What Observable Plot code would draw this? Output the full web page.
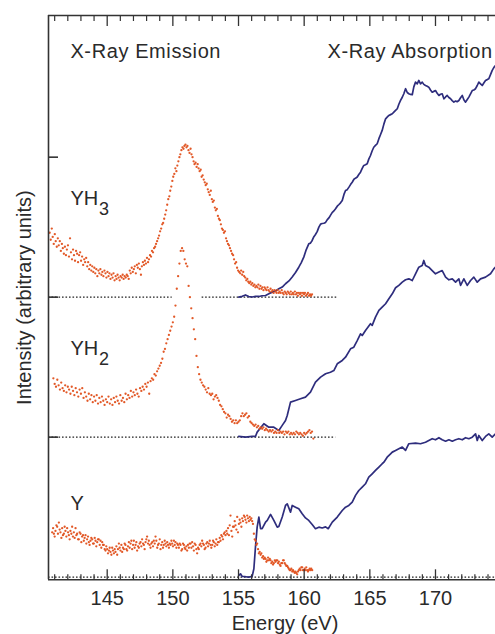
<!DOCTYPE html>
<html><head><meta charset="utf-8">
<script src="https://cdn.jsdelivr.net/npm/d3@7"></script>
<script src="https://cdn.jsdelivr.net/npm/@observablehq/plot@0.6"></script>
<style>
html,body{margin:0;padding:0;background:#fff;}
#chart svg{display:block;}
</style></head><body><div id="chart"></div>
<script>
// ---- data: energy (eV), intensity above each spectrum's own baseline (arb. units) ----
const yh3Emission = [[140.62,0.46],[140.70,0.41],[140.78,0.49],[140.85,0.43],[140.93,0.38],[141.01,0.45],[141.08,0.40],[141.16,0.36],[141.24,0.42],[141.31,0.37],[141.39,0.40],[141.47,0.33],[141.55,0.38],[141.62,0.35],[141.70,0.31],[141.78,0.36],[141.86,0.30],[141.93,0.34],[142.01,0.37],[142.09,0.29],[142.17,0.42],[142.24,0.32],[142.32,0.27],[142.40,0.34],[142.47,0.30],[142.55,0.26],[142.63,0.33],[142.71,0.31],[142.78,0.25],[142.86,0.30],[142.94,0.32],[143.01,0.26],[143.09,0.29],[143.17,0.23],[143.25,0.27],[143.32,0.25],[143.40,0.28],[143.48,0.22],[143.55,0.25],[143.63,0.20],[143.71,0.23],[143.79,0.19],[143.86,0.22],[143.94,0.18],[144.02,0.21],[144.09,0.17],[144.17,0.20],[144.25,0.15],[144.33,0.19],[144.40,0.17],[144.48,0.20],[144.56,0.16],[144.63,0.18],[144.71,0.15],[144.79,0.19],[144.87,0.17],[144.94,0.14],[145.02,0.18],[145.10,0.15],[145.17,0.17],[145.25,0.13],[145.33,0.16],[145.41,0.14],[145.48,0.17],[145.56,0.12],[145.64,0.15],[145.71,0.13],[145.79,0.16],[145.87,0.14],[145.95,0.12],[146.02,0.15],[146.10,0.14],[146.18,0.16],[146.25,0.13],[146.33,0.15],[146.41,0.14],[146.49,0.16],[146.56,0.15],[146.64,0.13],[146.72,0.19],[146.79,0.17],[146.87,0.21],[146.95,0.18],[147.03,0.20],[147.10,0.22],[147.18,0.17],[147.26,0.23],[147.33,0.21],[147.41,0.24],[147.49,0.20],[147.57,0.16],[147.64,0.22],[147.72,0.25],[147.80,0.23],[147.87,0.26],[147.95,0.24],[148.03,0.28],[148.11,0.25],[148.18,0.27],[148.26,0.30],[148.34,0.29],[148.41,0.33],[148.49,0.32],[148.57,0.35],[148.65,0.36],[148.72,0.38],[148.80,0.40],[148.88,0.42],[148.95,0.44],[149.03,0.47],[149.11,0.49],[149.19,0.52],[149.26,0.53],[149.34,0.56],[149.42,0.59],[149.49,0.62],[149.57,0.66],[149.65,0.70],[149.73,0.72],[149.80,0.76],[149.88,0.79],[149.96,0.83],[150.03,0.86],[150.11,0.88],[150.19,0.92],[150.27,0.90],[150.34,0.94],[150.42,0.97],[150.50,1.00],[150.57,1.02],[150.65,1.05],[150.73,1.07],[150.81,1.06],[150.88,1.08],[150.96,1.09],[151.04,1.07],[151.11,1.08],[151.19,1.05],[151.27,1.03],[151.35,1.06],[151.42,1.02],[151.50,1.00],[151.58,0.97],[151.65,0.95],[151.73,0.96],[151.81,0.93],[151.89,0.95],[151.96,0.92],[152.04,0.90],[152.12,0.91],[152.19,0.86],[152.27,0.87],[152.35,0.84],[152.43,0.82],[152.50,0.80],[152.58,0.81],[152.66,0.77],[152.73,0.75],[152.81,0.73],[152.89,0.76],[152.97,0.70],[153.04,0.68],[153.12,0.69],[153.20,0.64],[153.27,0.62],[153.35,0.63],[153.43,0.58],[153.51,0.56],[153.58,0.55],[153.66,0.52],[153.74,0.49],[153.81,0.48],[153.89,0.46],[153.97,0.47],[154.05,0.42],[154.12,0.40],[154.20,0.38],[154.28,0.37],[154.35,0.35],[154.43,0.33],[154.51,0.31],[154.59,0.30],[154.66,0.27],[154.74,0.24],[154.82,0.25],[154.89,0.21],[154.97,0.19],[155.05,0.18],[155.13,0.17],[155.20,0.19],[155.28,0.16],[155.36,0.18],[155.43,0.15],[155.51,0.14],[155.59,0.12],[155.67,0.13],[155.74,0.11],[155.82,0.10],[155.90,0.11],[155.97,0.09],[156.05,0.10],[156.13,0.08],[156.21,0.09],[156.28,0.07],[156.36,0.08],[156.44,0.07],[156.51,0.09],[156.59,0.06],[156.67,0.08],[156.75,0.06],[156.82,0.07],[156.90,0.05],[156.98,0.07],[157.05,0.06],[157.13,0.05],[157.21,0.07],[157.29,0.05],[157.36,0.04],[157.44,0.06],[157.52,0.04],[157.59,0.05],[157.67,0.03],[157.75,0.05],[157.83,0.04],[157.90,0.03],[157.98,0.05],[158.06,0.03],[158.13,0.04],[158.21,0.03],[158.29,0.05],[158.37,0.03],[158.44,0.02],[158.52,0.04],[158.60,0.03],[158.67,0.02],[158.75,0.04],[158.83,0.03],[158.91,0.02],[158.98,0.04],[159.06,0.02],[159.14,0.03],[159.21,0.02],[159.29,0.04],[159.37,0.02],[159.45,0.03],[159.52,0.01],[159.60,0.03],[159.68,0.02],[159.75,0.03],[159.83,0.01],[159.91,0.03],[159.99,0.02],[160.06,0.03],[160.14,0.01],[160.22,0.02],[160.29,0.03],[160.37,0.01],[160.45,0.02],[160.53,0.01],[160.60,0.02]];

const yh2Emission = [[140.90,0.42],[141.00,0.38],[141.10,0.36],[141.20,0.41],[141.30,0.37],[141.40,0.34],[141.50,0.39],[141.60,0.35],[141.70,0.33],[141.80,0.37],[141.90,0.32],[142.00,0.36],[142.10,0.34],[142.20,0.31],[142.30,0.36],[142.40,0.33],[142.50,0.30],[142.60,0.35],[142.70,0.32],[142.80,0.29],[142.90,0.34],[143.00,0.31],[143.10,0.35],[143.20,0.28],[143.30,0.32],[143.40,0.29],[143.50,0.26],[143.60,0.31],[143.70,0.27],[143.80,0.30],[143.90,0.25],[144.00,0.29],[144.10,0.26],[144.20,0.30],[144.30,0.24],[144.40,0.28],[144.50,0.25],[144.60,0.29],[144.70,0.26],[144.80,0.23],[144.90,0.27],[145.00,0.25],[145.10,0.29],[145.20,0.24],[145.30,0.27],[145.40,0.23],[145.50,0.28],[145.60,0.25],[145.70,0.29],[145.80,0.26],[145.90,0.24],[146.00,0.30],[146.10,0.26],[146.20,0.28],[146.30,0.25],[146.40,0.31],[146.50,0.27],[146.60,0.30],[146.70,0.28],[146.80,0.33],[146.90,0.29],[147.00,0.32],[147.10,0.30],[147.20,0.34],[147.30,0.31],[147.40,0.29],[147.50,0.35],[147.60,0.33],[147.70,0.36],[147.80,0.34],[147.90,0.38],[148.00,0.36],[148.10,0.39],[148.20,0.31],[148.30,0.40],[148.40,0.42],[148.50,0.41],[148.60,0.45],[148.70,0.44],[148.80,0.47],[148.90,0.49],[149.00,0.51],[149.10,0.53],[149.20,0.56],[149.30,0.61],[149.40,0.63],[149.50,0.67],[149.60,0.70],[149.70,0.73],[149.80,0.76],[149.90,0.79],[150.00,0.82],[150.10,0.86],[150.20,0.94],[150.30,1.06],[150.40,1.15],[150.50,1.24],[150.60,1.33],[150.70,1.35],[150.80,1.33],[150.90,1.27],[151.00,1.24],[151.10,1.22],[151.20,1.08],[151.30,1.00],[151.40,0.92],[151.50,0.85],[151.60,0.77],[151.70,0.70],[151.80,0.58],[151.90,0.50],[152.00,0.45],[152.10,0.41],[152.20,0.39],[152.30,0.37],[152.40,0.36],[152.50,0.34],[152.60,0.32],[152.70,0.35],[152.80,0.31],[152.90,0.30],[153.00,0.31],[153.10,0.27],[153.20,0.29],[153.30,0.30],[153.40,0.28],[153.50,0.26],[153.60,0.23],[153.70,0.22],[153.80,0.20],[153.90,0.18],[154.00,0.17],[154.10,0.14],[154.20,0.16],[154.30,0.15],[154.40,0.13],[154.50,0.11],[154.60,0.12],[154.70,0.10],[154.80,0.12],[154.90,0.10],[155.00,0.11],[155.10,0.12],[155.20,0.15],[155.30,0.17],[155.40,0.15],[155.50,0.16],[155.60,0.17],[155.70,0.14],[155.80,0.15],[155.90,0.11],[156.00,0.10],[156.10,0.09],[156.20,0.08],[156.30,0.09],[156.40,0.07],[156.50,0.08],[156.60,0.06],[156.70,0.07],[156.80,0.06],[156.90,0.07],[157.00,0.05],[157.10,0.06],[157.20,0.05],[157.30,0.04],[157.40,0.05],[157.50,0.04],[157.60,0.05],[157.70,0.03],[157.80,0.04],[157.90,0.03],[158.00,0.05],[158.10,0.03],[158.20,0.04],[158.30,0.03],[158.40,0.04],[158.50,0.02],[158.60,0.04],[158.70,0.03],[158.80,0.04],[158.90,0.02],[159.00,0.03],[159.10,0.02],[159.20,0.03],[159.30,0.02],[159.40,0.04],[159.50,0.03],[159.60,0.02],[159.70,0.03],[159.80,0.02],[159.90,0.01],[160.00,0.03],[160.10,0.02],[160.20,0.03],[160.30,0.04],[160.40,0.05],[160.50,0.03],[160.60,0.04],[160.70,-0.01]];

const yEmission = [[140.81,0.32],[140.88,0.35],[140.94,0.31],[141.00,0.29],[141.06,0.33],[141.13,0.37],[141.19,0.36],[141.25,0.31],[141.32,0.39],[141.38,0.34],[141.44,0.32],[141.51,0.28],[141.57,0.35],[141.63,0.30],[141.70,0.31],[141.76,0.36],[141.82,0.33],[141.89,0.29],[141.95,0.35],[142.02,0.32],[142.08,0.30],[142.14,0.27],[142.20,0.33],[142.27,0.31],[142.33,0.36],[142.39,0.29],[142.46,0.32],[142.52,0.28],[142.59,0.35],[142.65,0.30],[142.71,0.31],[142.78,0.27],[142.84,0.27],[142.90,0.32],[142.97,0.31],[143.03,0.25],[143.09,0.29],[143.16,0.30],[143.22,0.26],[143.28,0.28],[143.35,0.30],[143.41,0.24],[143.47,0.27],[143.54,0.29],[143.60,0.25],[143.66,0.23],[143.73,0.26],[143.79,0.28],[143.86,0.27],[143.92,0.24],[143.98,0.24],[144.05,0.28],[144.11,0.26],[144.17,0.22],[144.24,0.25],[144.30,0.27],[144.36,0.27],[144.43,0.23],[144.49,0.26],[144.55,0.21],[144.62,0.25],[144.68,0.23],[144.74,0.23],[144.81,0.20],[144.87,0.19],[144.93,0.22],[145.00,0.20],[145.06,0.17],[145.13,0.19],[145.19,0.21],[145.25,0.18],[145.32,0.16],[145.38,0.21],[145.44,0.19],[145.51,0.17],[145.57,0.20],[145.63,0.18],[145.70,0.22],[145.76,0.16],[145.82,0.20],[145.89,0.24],[145.95,0.21],[146.01,0.19],[146.08,0.23],[146.14,0.18],[146.20,0.21],[146.27,0.20],[146.33,0.24],[146.39,0.23],[146.46,0.20],[146.52,0.19],[146.58,0.22],[146.65,0.25],[146.71,0.21],[146.78,0.24],[146.84,0.26],[146.90,0.20],[146.97,0.23],[147.03,0.26],[147.09,0.21],[147.16,0.23],[147.22,0.25],[147.28,0.19],[147.35,0.22],[147.41,0.21],[147.47,0.24],[147.54,0.25],[147.60,0.22],[147.66,0.27],[147.73,0.24],[147.79,0.23],[147.85,0.20],[147.92,0.25],[147.98,0.27],[148.04,0.29],[148.11,0.24],[148.17,0.26],[148.23,0.23],[148.30,0.21],[148.36,0.24],[148.43,0.25],[148.49,0.22],[148.55,0.26],[148.62,0.24],[148.68,0.29],[148.74,0.26],[148.81,0.21],[148.87,0.23],[148.93,0.24],[149.00,0.27],[149.06,0.20],[149.12,0.23],[149.19,0.25],[149.25,0.21],[149.31,0.23],[149.38,0.26],[149.44,0.24],[149.50,0.22],[149.57,0.25],[149.63,0.23],[149.70,0.21],[149.76,0.24],[149.82,0.23],[149.89,0.26],[149.95,0.24],[150.01,0.22],[150.08,0.26],[150.14,0.23],[150.20,0.25],[150.27,0.21],[150.33,0.24],[150.39,0.23],[150.46,0.21],[150.52,0.24],[150.58,0.23],[150.65,0.19],[150.71,0.20],[150.77,0.24],[150.84,0.23],[150.90,0.21],[150.96,0.20],[151.03,0.22],[151.09,0.19],[151.15,0.23],[151.22,0.21],[151.28,0.24],[151.35,0.24],[151.41,0.21],[151.47,0.25],[151.54,0.22],[151.60,0.19],[151.66,0.24],[151.73,0.23],[151.79,0.20],[151.85,0.17],[151.92,0.21],[151.98,0.20],[152.04,0.23],[152.11,0.24],[152.17,0.22],[152.23,0.26],[152.30,0.24],[152.36,0.23],[152.42,0.20],[152.49,0.21],[152.55,0.24],[152.62,0.25],[152.68,0.22],[152.74,0.24],[152.81,0.26],[152.87,0.23],[152.93,0.21],[153.00,0.23],[153.06,0.26],[153.12,0.25],[153.19,0.22],[153.25,0.24],[153.31,0.27],[153.38,0.23],[153.44,0.25],[153.50,0.25],[153.57,0.28],[153.63,0.26],[153.69,0.30],[153.76,0.29],[153.82,0.27],[153.89,0.31],[153.95,0.32],[154.01,0.30],[154.08,0.33],[154.14,0.31],[154.20,0.35],[154.27,0.30],[154.33,0.37],[154.39,0.44],[154.46,0.33],[154.52,0.29],[154.58,0.36],[154.65,0.36],[154.71,0.40],[154.77,0.37],[154.84,0.34],[154.90,0.43],[154.96,0.32],[155.03,0.38],[155.09,0.41],[155.15,0.39],[155.22,0.36],[155.28,0.42],[155.34,0.40],[155.41,0.44],[155.47,0.43],[155.53,0.41],[155.60,0.39],[155.66,0.44],[155.72,0.42],[155.79,0.40],[155.85,0.43],[155.91,0.41],[155.98,0.42],[156.04,0.40],[156.10,0.38],[156.17,0.31],[156.23,0.27],[156.30,0.26],[156.36,0.23],[156.42,0.24],[156.49,0.20],[156.55,0.17],[156.61,0.18],[156.68,0.16],[156.74,0.17],[156.80,0.14],[156.87,0.15],[156.93,0.13],[156.99,0.14],[157.06,0.13],[157.12,0.11],[157.19,0.12],[157.25,0.14],[157.31,0.12],[157.38,0.13],[157.44,0.12],[157.50,0.10],[157.57,0.11],[157.63,0.09],[157.69,0.10],[157.76,0.12],[157.82,0.11],[157.88,0.12],[157.95,0.12],[158.01,0.10],[158.07,0.11],[158.14,0.09],[158.20,0.08],[158.26,0.10],[158.33,0.10],[158.39,0.12],[158.45,0.12],[158.52,0.10],[158.58,0.09],[158.64,0.08],[158.71,0.08],[158.77,0.07],[158.83,0.06],[158.90,0.05],[158.96,0.05],[159.02,0.06],[159.09,0.04],[159.15,0.05],[159.21,0.04],[159.28,0.03],[159.34,0.04],[159.40,0.03],[159.47,0.02],[159.53,0.04],[159.59,0.05],[159.66,0.06],[159.72,0.05],[159.78,0.07],[159.85,0.07],[159.91,0.05],[159.97,0.05],[160.04,0.06],[160.10,0.05],[160.16,0.07],[160.23,0.05],[160.29,0.04],[160.35,0.05],[160.42,0.06],[160.48,0.05],[160.54,0.06],[160.61,0.05]];

const yh3Absorption = [[155.02,0.000],[155.28,0.006],[155.53,0.016],[155.78,0.004],[156.04,0.001],[156.30,0.006],[156.55,0.005],[156.80,0.010],[157.06,0.012],[157.31,0.024],[157.57,0.036],[157.82,0.045],[158.07,0.060],[158.33,0.072],[158.58,0.096],[158.84,0.116],[159.09,0.144],[159.34,0.176],[159.59,0.214],[159.78,0.247],[159.97,0.286],[160.16,0.340],[160.35,0.381],[160.48,0.386],[160.61,0.405],[160.74,0.432],[160.86,0.448],[160.99,0.468],[161.12,0.500],[161.25,0.522],[161.37,0.526],[161.50,0.528],[161.63,0.534],[161.75,0.552],[161.88,0.566],[162.00,0.584],[162.13,0.604],[162.26,0.616],[162.39,0.631],[162.52,0.650],[162.65,0.662],[162.77,0.674],[162.90,0.691],[163.03,0.734],[163.15,0.762],[163.28,0.768],[163.41,0.786],[163.53,0.804],[163.66,0.821],[163.79,0.842],[163.91,0.850],[164.04,0.858],[164.16,0.876],[164.29,0.893],[164.42,0.920],[164.54,0.941],[164.67,0.946],[164.80,0.953],[164.92,0.986],[165.05,1.012],[165.18,1.046],[165.30,1.071],[165.43,1.084],[165.56,1.096],[165.69,1.132],[165.81,1.160],[165.94,1.191],[166.07,1.236],[166.20,1.274],[166.32,1.286],[166.45,1.298],[166.58,1.304],[166.71,1.310],[166.83,1.322],[166.96,1.334],[167.09,1.346],[167.21,1.378],[167.34,1.405],[167.47,1.428],[167.59,1.453],[167.72,1.489],[167.85,1.462],[167.97,1.453],[168.10,1.448],[168.23,1.446],[168.35,1.502],[168.48,1.536],[168.61,1.524],[168.73,1.548],[168.86,1.524],[168.99,1.536],[169.11,1.520],[169.24,1.512],[169.37,1.506],[169.49,1.500],[169.62,1.480],[169.75,1.464],[169.87,1.470],[170.00,1.476],[170.13,1.456],[170.26,1.441],[170.38,1.449],[170.51,1.453],[170.64,1.417],[170.77,1.430],[170.89,1.441],[171.02,1.426],[171.15,1.417],[171.27,1.404],[171.40,1.393],[171.53,1.401],[171.65,1.396],[171.78,1.405],[171.91,1.424],[172.04,1.441],[172.16,1.410],[172.29,1.393],[172.42,1.412],[172.54,1.429],[172.67,1.452],[172.80,1.476],[172.92,1.480],[173.05,1.489],[173.18,1.512],[173.30,1.536],[173.43,1.524],[173.56,1.512],[173.68,1.530],[173.81,1.548],[173.94,1.554],[174.06,1.560],[174.19,1.590],[174.32,1.620],[174.44,1.640],[174.57,1.655]];

const yh2Absorption = [[155.02,0.005],[155.53,0.000],[156.04,0.005],[156.29,0.005],[156.42,0.036],[156.93,0.096],[157.31,0.071],[157.69,0.071],[158.07,0.048],[158.33,0.084],[158.58,0.119],[158.71,0.155],[158.96,0.250],[159.34,0.262],[159.72,0.274],[160.10,0.286],[160.48,0.321],[160.86,0.393],[161.25,0.429],[161.63,0.453],[162.00,0.464],[162.26,0.476],[162.52,0.524],[162.90,0.548],[163.15,0.571],[163.53,0.631],[163.78,0.643],[164.04,0.690],[164.29,0.738],[164.42,0.726],[164.67,0.762],[165.05,0.810],[165.18,0.798],[165.43,0.857],[165.69,0.905],[165.94,0.929],[166.20,0.953],[166.45,0.989],[166.71,1.024],[166.96,1.067],[167.21,1.084],[167.47,1.107],[167.72,1.124],[167.97,1.131],[168.23,1.119],[168.48,1.167],[168.73,1.214],[168.99,1.226],[169.11,1.262],[169.24,1.226],[169.49,1.214],[169.75,1.190],[170.00,1.167],[170.26,1.179],[170.51,1.190],[170.77,1.143],[171.02,1.124],[171.28,1.131],[171.53,1.107],[171.78,1.131],[171.91,1.084],[172.16,1.131],[172.42,1.084],[172.67,1.119],[172.92,1.143],[173.18,1.107],[173.43,1.131],[173.81,1.143],[174.19,1.167],[174.44,1.202],[174.57,1.214]];

const yAbsorption = [[155.02,0.012],[155.15,0.024],[155.28,0.005],[155.53,0.003],[155.78,0.000],[156.04,0.005],[156.17,0.060],[156.29,0.214],[156.42,0.357],[156.55,0.429],[156.68,0.346],[156.80,0.346],[157.06,0.393],[157.19,0.405],[157.44,0.448],[157.69,0.405],[157.95,0.357],[158.07,0.362],[158.33,0.429],[158.58,0.512],[158.71,0.524],[158.96,0.464],[159.09,0.512],[159.34,0.500],[159.59,0.488],[159.85,0.453],[160.10,0.423],[160.35,0.405],[160.61,0.376],[160.86,0.346],[161.12,0.357],[161.37,0.351],[161.63,0.359],[161.83,0.346],[162.14,0.393],[162.52,0.429],[162.90,0.476],[163.15,0.500],[163.40,0.512],[163.66,0.536],[163.91,0.584],[164.16,0.619],[164.42,0.643],[164.67,0.667],[164.92,0.714],[165.18,0.738],[165.43,0.762],[165.69,0.786],[165.94,0.810],[166.07,0.821],[166.32,0.857],[166.58,0.881],[166.71,0.893],[166.96,0.905],[167.21,0.917],[167.47,0.929],[167.72,0.905],[167.97,0.953],[168.48,0.957],[168.86,0.953],[169.24,0.964],[169.49,0.976],[169.75,0.989],[170.00,0.981],[170.26,0.996],[170.51,0.981],[170.77,0.971],[171.02,0.981],[171.28,0.971],[171.53,0.981],[171.78,0.989],[172.04,0.981],[172.29,0.996],[172.54,0.989],[172.80,1.000],[173.05,1.024],[173.18,0.976],[173.30,1.012],[173.56,0.976],[173.81,1.005],[174.06,1.024],[174.32,1.000],[174.57,1.024]];

// spectra names, their vertical offsets (baseline level) and label text
const compounds = ["YH3", "YH2", "Y"];
const baselineLevels = [2, 1, 0];
const labelMain = ["YH", "YH", "Y"];
const labelSub = ["3", "2", ""];
// dotted zero lines: [level, from eV, to eV]
const zeroLines = [[2, 140.53, 149.95], [2, 152.23, 162.6], [1, 140.53, 162.4], [0, 140.53, 174.57]];

const xDomain = [140.53, 174.57];
const yDomain = [-0.019, 4.012];
const majorTicks = [145, 150, 155, 160, 165, 170];
const minorTicks = [141, 142, 143, 144, 146, 147, 148, 149, 151, 152, 153, 154, 156, 157, 158, 159, 161, 162, 163, 164, 166, 167, 168, 169, 171, 172, 173, 174];
const yTicks = [1, 2, 3];
const tickLabels = ["145", "150", "155", "160", "165", "170"];

// ---- build tables ----
const emissionSets = [yh3Emission, yh2Emission, yEmission];
const absorptionSets = [yh3Absorption, yh2Absorption, yAbsorption];
const emission = emissionSets.flatMap((s, i) => s.map(([e, v]) => ({e, y: v + baselineLevels[i], c: compounds[i]})));
const absorption = absorptionSets.flatMap((s, i) => s.map(([e, v]) => ({e, y: v + baselineLevels[i], c: compounds[i]})));
const zero = zeroLines.map(([y, x1, x2]) => ({y, x1, x2}));

const FONT = "'Liberation Sans', Arial, Helvetica, sans-serif";
const INK = "#2a2a2a";
const ORANGE = "#e0501c";
const NAVY = "#2e2d7d";

// label anchor positions (eV, level) for compound names
const labelPos = [[142.2, 2.655], [142.2, 1.59], [142.2, 0.483]];
const labels = compounds.map((c, i) => ({x: labelPos[i][0], y: labelPos[i][1], main: labelMain[i], sub: labelSub[i]}));

const chart = Plot.plot({
  width: 495,
  height: 634,
  marginLeft: 48,
  marginRight: 0,
  marginTop: 15,
  marginBottom: 54.7,
  style: {fontFamily: FONT, color: INK, background: "#fff"},
  x: {domain: xDomain},
  y: {domain: yDomain},
  marks: [
    Plot.ruleY(zero, {y: "y", x1: "x1", x2: "x2", stroke: "#222", strokeWidth: 1.2, strokeDasharray: "1.6,1.9"}),
    Plot.line(absorption, {x: "e", y: "y", z: "c", stroke: NAVY, strokeWidth: 1.7, strokeLinejoin: "round"}),
    Plot.dot(emission, {x: "e", y: "y", r: 1.15, fill: ORANGE, stroke: "none", fillOpacity: 0.95}),
    // frame (left, top, bottom)
    Plot.ruleX([xDomain[0]], {stroke: "#333", strokeWidth: 1.6}),
    Plot.ruleY(yDomain, {stroke: "#333", strokeWidth: 1.6}),
    // inward ticks
    Plot.axisX({ticks: majorTicks, anchor: "bottom", tickSize: -10, fill: "none", stroke: "#333", strokeWidth: 1.3}),
    Plot.axisX({ticks: minorTicks, anchor: "bottom", tickSize: -5, fill: "none", stroke: "#333", strokeWidth: 1.2}),
    Plot.axisX({ticks: majorTicks, anchor: "top", tickSize: -10, fill: "none", stroke: "#333", strokeWidth: 1.3}),
    Plot.axisX({ticks: minorTicks, anchor: "top", tickSize: -5, fill: "none", stroke: "#333", strokeWidth: 1.2}),
    Plot.axisY({ticks: yTicks, anchor: "left", tickSize: -10, fill: "none", stroke: "#333", strokeWidth: 1.6}),
    // tick labels
    Plot.axisX({ticks: majorTicks, anchor: "bottom", tickSize: 0, tickPadding: 10.7, tickFormat: (d, i) => tickLabels[i], fontSize: 20, fill: INK, label: null}),
    // compound labels
    Plot.text(labels, {x: "x", y: "y", text: "main", textAnchor: "start", lineAnchor: "bottom", fontSize: 20, fill: INK}),
    Plot.text(labels, {x: "x", y: "y", text: "sub", textAnchor: "start", lineAnchor: "bottom", fontSize: 18, dx: 28.5, dy: 10, fill: INK}),
    // section titles
    Plot.text(["X-Ray Emission"], {x: 142.2, y: 3.71, textAnchor: "start", lineAnchor: "bottom", fontSize: 20, fill: INK}),
    Plot.text(["X-Ray Absorption"], {x: 161.78, y: 3.71, textAnchor: "start", lineAnchor: "bottom", fontSize: 20, fill: INK}),
    // axis titles
    Plot.text(["Intensity (arbitrary units)"], {frameAnchor: "left", rotate: -90, dx: -18, textAnchor: "middle", lineAnchor: "bottom", fontSize: 20, fill: INK}),
    Plot.text(["Energy (eV)"], {frameAnchor: "bottom", dx: 13, dy: 49.7, textAnchor: "middle", lineAnchor: "bottom", fontSize: 20, fill: INK})
  ]
});
// the section titles are set slightly wider in the original
d3.select(chart).selectAll("text").filter(function() { return this.textContent.startsWith("X-Ray"); }).attr("letter-spacing", "0.6px");
document.getElementById("chart").appendChild(chart);
</script>
</body></html>
